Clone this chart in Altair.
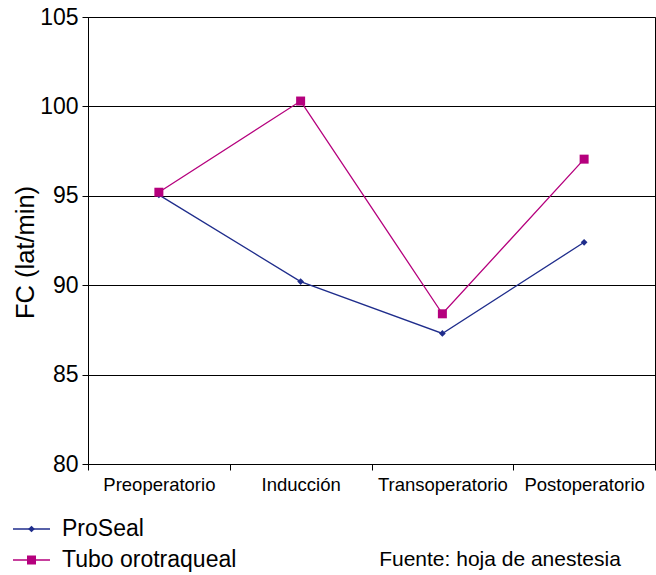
import json
import altair as alt
import pandas as pd

categories = ["Preoperatorio", "Inducción", "Transoperatorio", "Postoperatorio"]
series_names = ["ProSeal", "Tubo orotraqueal"]
proseal = [95.05, 90.2, 87.3, 92.4]
tubo = [95.2, 100.3, 88.4, 97.05]
y_ticks = [80, 85, 90, 95, 100, 105]
y_title = "FC (lat/min)"
source_note = "Fuente: hoja de anestesia"

colors = ["#1f2d8c", "#b5007d"]
shapes = ["diamond", "square"]
marker_sizes = [45, 81]
FONT = "Liberation Sans"

rows = []
for i, c in enumerate(categories):
    rows.append({"cat": c, "pos": i + 0.5, "series": series_names[0], "fc": proseal[i]})
    rows.append({"cat": c, "pos": i + 0.5, "series": series_names[1], "fc": tubo[i]})
df = pd.DataFrame(rows)
leg_df = pd.DataFrame({"series": series_names})

W, H = 567, 447
n = len(categories)
band = W / n

label_expr = "datum.value < %d ? %s[datum.value] : ''" % (n, json.dumps(categories, ensure_ascii=False))

x_enc = alt.X(
    "pos:Q",
    scale=alt.Scale(domain=[0, n], nice=False, zero=False),
    axis=alt.Axis(
        values=list(range(n + 1)), labelExpr=label_expr, labelOffset=band / 2,
        labelFlush=False, labelOverlap=False, grid=False, tickSize=6,
        labelPadding=5, labelFontSize=18.5, labelFont=FONT, labelColor="black",
        title=None, domainColor="black", tickColor="black",
    ),
)
y_scale = alt.Scale(domain=[80, 105], nice=False, zero=False)
y_enc = alt.Y(
    "fc:Q",
    scale=y_scale,
    axis=alt.Axis(
        values=y_ticks, grid=True, gridColor="black", gridOpacity=1, gridWidth=1,
        tickSize=6, tickColor="black", domainColor="black",
        labelPadding=4, labelFontSize=23, labelFont=FONT, labelColor="black",
        title=y_title, titleFontSize=25.5, titleFont=FONT, titleFontWeight="normal",
        titleColor="black", titleX=-63, titleY=235, titleAngle=270,
        titleBaseline="middle", titleAlign="center",
    ),
)

color_enc = alt.Color("series:N", scale=alt.Scale(domain=series_names, range=colors), legend=None)
shape_enc = alt.Shape("series:N", scale=alt.Scale(domain=series_names, range=shapes), legend=None)
size_enc = alt.Size("series:N", scale=alt.Scale(domain=series_names, range=marker_sizes), legend=None)

line = alt.Chart(df).mark_line(strokeWidth=1.3).encode(
    x=x_enc, y=y_enc, color=color_enc, order="pos:Q",
)
points = alt.Chart(df).mark_point(filled=True, opacity=1).encode(
    x=x_enc, y=y_enc, color=color_enc, shape=shape_enc, size=size_enc,
)
main = alt.layer(line, points)

# legend drawn below the plot, one row per series
leg_y = alt.Y("series:N", scale=alt.Scale(type="point", domain=series_names, range=[512, 543], padding=0), axis=None)
leg_line = alt.Chart(leg_df).mark_rule(strokeWidth=1.3).encode(
    x=alt.value(-75), x2=alt.value(-38), y=leg_y, color=color_enc,
)
leg_pt = alt.Chart(leg_df).mark_point(filled=True, opacity=1).encode(
    x=alt.value(-56.5), y=leg_y, color=color_enc, shape=shape_enc, size=size_enc,
)
leg_txt = alt.Chart(leg_df).mark_text(
    fontSize=23, font=FONT, color="black", align="left", baseline="middle"
).encode(x=alt.value(-26), y=leg_y, text="series:N")
legend_layer = alt.layer(leg_line, leg_pt, leg_txt)

note = alt.Chart(alt.Data(values=[{"t": source_note}])).mark_text(
    fontSize=21, font=FONT, color="black", align="center", baseline="middle"
).encode(x=alt.value(412), y=alt.value(543), text="t:N")

chart = alt.layer(main, legend_layer, note).resolve_scale(y="independent").properties(
    width=W, height=H,
    autosize=alt.AutoSizeParams(type="none"),
    padding={"left": 88, "top": 17, "right": 1, "bottom": 111},
    background="white",
).configure_view(stroke="black", strokeWidth=1)

chart.save("out.html", embed_options={"renderer": "svg", "actions": False})
